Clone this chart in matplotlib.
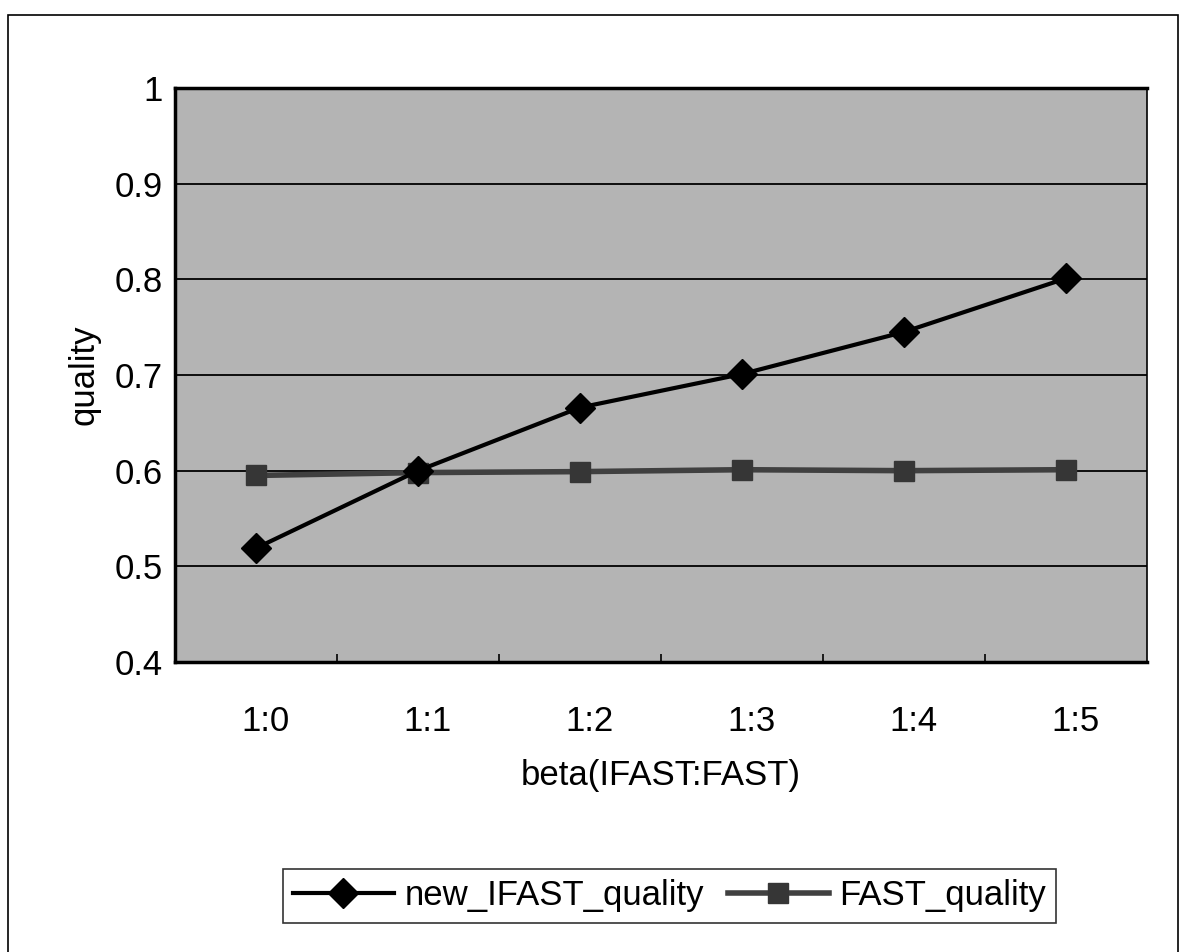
'''
Quality vs beta ratio for IFAST and FAST.
'''

import numpy as np
import matplotlib.pyplot as plt
import matplotlib.patches as mpatches
import matplotlib.transforms as mtransforms

# data
ratios = ['1:0', '1:1', '1:2', '1:3', '1:4', '1:5']
new_ifast_quality = [0.519, 0.600, 0.666, 0.701, 0.745, 0.801]
fast_quality = [0.595, 0.598, 0.599, 0.601, 0.600, 0.601]
yticks = [0.4, 0.5, 0.6, 0.7, 0.8, 0.9, 1.0]
ytick_labels = ['0.4', '0.5', '0.6', '0.7', '0.8', '0.9', '1']

plt.rcParams['font.family'] = ['Liberation Sans', 'DejaVu Sans']

fig = plt.figure(figsize=(11.85, 9.52), dpi=100)
ax = fig.add_axes([0.1477, 0.3046, 0.8203, 0.603])
ax.set_facecolor('#b4b4b4')

x = np.arange(len(ratios))

# horizontal gridlines
for yv in yticks[1:-1]:
    ax.axhline(yv, color='black', lw=1.3, zorder=1)

ax.plot(x, fast_quality, color='#404040', lw=4, marker='s', ms=14,
        mfc='#363636', mec='#363636', zorder=3, label='FAST_quality')
ax.plot(x, new_ifast_quality, color='black', lw=3, marker='D', ms=15,
        mfc='black', mec='black', zorder=4, label='new_IFAST_quality')

ax.set_xlim(-0.5, len(ratios) - 0.5)
ax.set_ylim(0.4, 1.0)
ax.set_yticks(yticks)
ax.set_yticklabels(ytick_labels)
ax.set_xticks(x)
ax.set_xticklabels(ratios)
ax.set_xticks(np.arange(0.5, len(ratios) - 1, 1.0), minor=True)
ax.tick_params(axis='x', which='major', length=0, pad=31, labelsize=25)
ax.tick_params(axis='x', which='minor', length=6, direction='in', width=1.2)
ax.tick_params(axis='y', length=0, pad=9, labelsize=25)

# category labels sit a little right of the points in the original
shift = mtransforms.ScaledTranslation(0.09, 0, fig.dpi_scale_trans)
for lab in ax.get_xticklabels():
    lab.set_transform(lab.get_transform() + shift)

for s in ax.spines.values():
    s.set_linewidth(2.5)
    s.set_color('black')
ax.spines['right'].set_linewidth(1.2)

ax.set_xlabel('beta(IFAST:FAST)', fontsize=25, labelpad=15)
ax.set_ylabel('quality', fontsize=25, labelpad=10)

# legend in the original order
handles, labels = ax.get_legend_handles_labels()
leg = fig.legend(handles[::-1], labels[::-1], loc='center',
                 bbox_to_anchor=(0.565, 0.059), ncol=2, fontsize=25,
                 frameon=True, fancybox=False, edgecolor='black',
                 handlelength=2.9, handletextpad=0.3, columnspacing=0.7,
                 borderpad=0.3)
leg.get_frame().set_linewidth(1.2)

# outer chart border
fig.patches.append(mpatches.Rectangle((0.0068, -0.02), 0.987, 1.004,
                                      transform=fig.transFigure, fill=False,
                                      edgecolor='black', lw=1.2))

fig.savefig('out.png', dpi=100)
